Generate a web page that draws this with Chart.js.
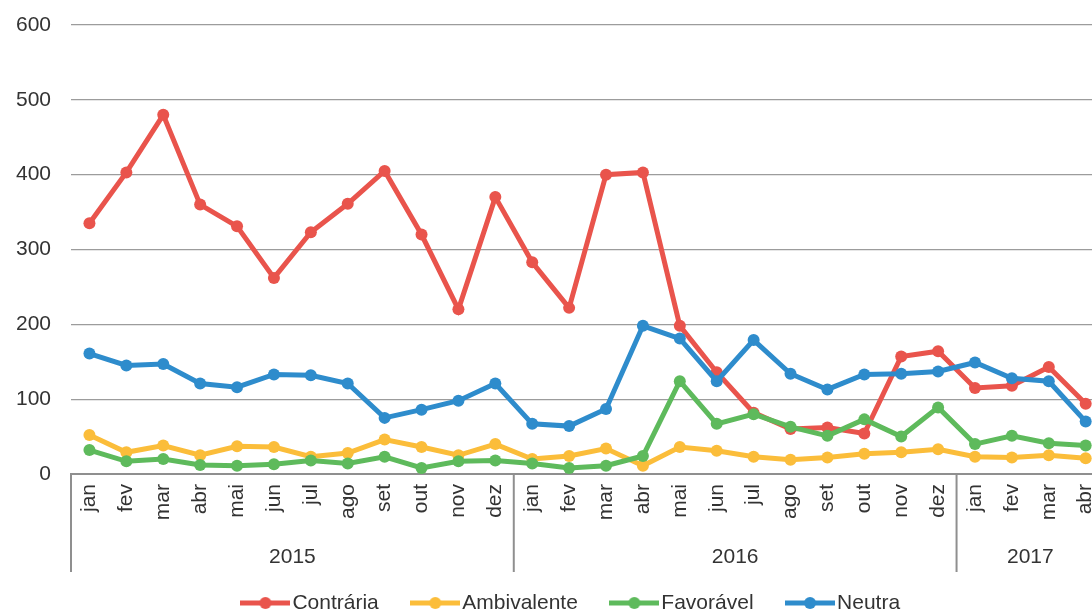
<!DOCTYPE html>
<html>
<head>
<meta charset="utf-8">
<script src="https://cdn.jsdelivr.net/npm/chart.js@4"></script>
<style>
  html, body { margin: 0; padding: 0; background: #fff; overflow: hidden; }
  #wrap { width: 1121px; height: 630px; position: relative; }
</style>
</head>
<body>
<div id="wrap"><canvas id="c"></canvas></div>
<script>
const months = ['jan','fev','mar','abr','mai','jun','jul','ago','set','out','nov','dez',
                'jan','fev','mar','abr','mai','jun','jul','ago','set','out','nov','dez',
                'jan','fev','mar','abr'];
const years = ['2015', '2016', '2017'];
const yearCounts = [12, 12, 4];
const yTicks = [0, 100, 200, 300, 400, 500, 600];

const seriesNames = ['Contrária', 'Ambivalente', 'Favorável', 'Neutra'];
const contraria   = [335,403,480,360,331,262,323,361,405,320,220,370, 283,222,400,403,198,136,82,60,62,54,157,164, 115,118,143,94];
const ambivalente = [52,29,38,25,37,36,23,28,46,36,25,40, 20,24,34,11,36,31,23,19,22,27,29,33, 23,22,25,21];
const favoravel   = [32,17,20,12,11,13,18,14,23,8,17,18, 14,8,11,24,124,67,80,63,51,73,50,89, 40,51,41,38];
const neutra      = [161,145,147,121,116,133,132,121,75,86,98,121, 67,64,87,198,181,124,179,134,113,133,134,137, 149,128,124,70];

const colors = ['#E9544C', '#FBBD3A', '#5EBA5C', '#2E8CCC'];
const FONT = "'Liberation Sans', Arial, sans-serif";

function legendIcon(color) {
  const cv = document.createElement('canvas');
  cv.width = 50; cv.height = 14;
  const g = cv.getContext('2d');
  g.strokeStyle = color; g.lineWidth = 5;
  g.beginPath(); g.moveTo(0, 7); g.lineTo(50, 7); g.stroke();
  g.fillStyle = color;
  g.beginPath(); g.arc(25, 7, 6, 0, Math.PI * 2); g.fill();
  return cv;
}
const icons = colors.map(legendIcon);

const yearPlugin = {
  id: 'yearRow',
  afterLayout(chart) {
    chart.legend.left += 6;
    chart.legend.right += 6;
  },
  afterDraw(chart) {
    const ctx = chart.ctx;
    const xs = chart.scales.x;
    const half = (xs.getPixelForValue(1) - xs.getPixelForValue(0)) / 2;
    const top = chart.chartArea.bottom;
    const bottom = top + 98;
    ctx.save();
    ctx.strokeStyle = '#8f8f8f';
    ctx.lineWidth = 2;
    let idx = 0;
    const x0 = xs.getPixelForValue(0) - half;
    ctx.beginPath(); ctx.moveTo(x0, top); ctx.lineTo(x0, bottom); ctx.stroke();
    ctx.fillStyle = '#333';
    ctx.font = '21px ' + FONT;
    ctx.textAlign = 'center';
    ctx.textBaseline = 'middle';
    years.forEach((y, i) => {
      const l = xs.getPixelForValue(idx) - half;
      const r = xs.getPixelForValue(idx + yearCounts[i] - 1) + half;
      ctx.beginPath(); ctx.moveTo(r, top); ctx.lineTo(r, bottom); ctx.stroke();
      ctx.fillText(y, (l + r) / 2, top + 83);
      idx += yearCounts[i];
    });
    ctx.restore();
  }
};

const dataArrays = [contraria, ambivalente, favoravel, neutra];
const datasets = seriesNames.map((n, i) => ({
  label: n,
  data: dataArrays[i],
  borderColor: colors[i],
  backgroundColor: colors[i],
  pointBackgroundColor: colors[i],
  pointBorderColor: colors[i],
  borderWidth: 5,
  pointRadius: 6,
  pointBorderWidth: 0,
  tension: 0,
  order: 4 - i
}));

new Chart(document.getElementById('c'), {
  type: 'line',
  data: { labels: months, datasets },
  plugins: [yearPlugin],
  options: {
    responsive: true,
    maintainAspectRatio: false,
    animation: false,
    layout: { padding: { left: 16, right: 0, top: 25, bottom: 6.5 } },
    plugins: {
      tooltip: { enabled: false },
      legend: {
        position: 'bottom',
        labels: {
          usePointStyle: true,
          pointStyleWidth: 33,
          padding: 40,
          color: '#333',
          font: { family: FONT, size: 21 },
          generateLabels(chart) {
            const items = Chart.defaults.plugins.legend.labels.generateLabels(chart);
            items.sort((a, b) => a.datasetIndex - b.datasetIndex);
            items.forEach(it => { it.pointStyle = icons[it.datasetIndex]; });
            return items;
          }
        }
      }
    },
    scales: {
      x: {
        offset: true,
        grid: { display: false, drawTicks: false },
        border: { display: true, color: '#8f8f8f', width: 2 },
        ticks: {
          minRotation: 90, maxRotation: 90, autoSkip: false, padding: 10,
          color: '#333', font: { family: FONT, size: 21 }
        },
        afterFit(scale) { scale.height = 78.5; }
      },
      y: {
        min: 0, max: 600,
        afterBuildTicks(scale) { scale.ticks = yTicks.map(v => ({ value: v })); },
        grid: { color: '#9c9c9c', lineWidth: 1.2, drawTicks: false },
        border: { display: false },
        ticks: { padding: 20, color: '#333', font: { family: FONT, size: 21 } },
        afterFit(scale) { scale.width = 55; scale.paddingTop = 0; scale.paddingBottom = 0; }
      }
    }
  }
});
</script>
</body>
</html>
